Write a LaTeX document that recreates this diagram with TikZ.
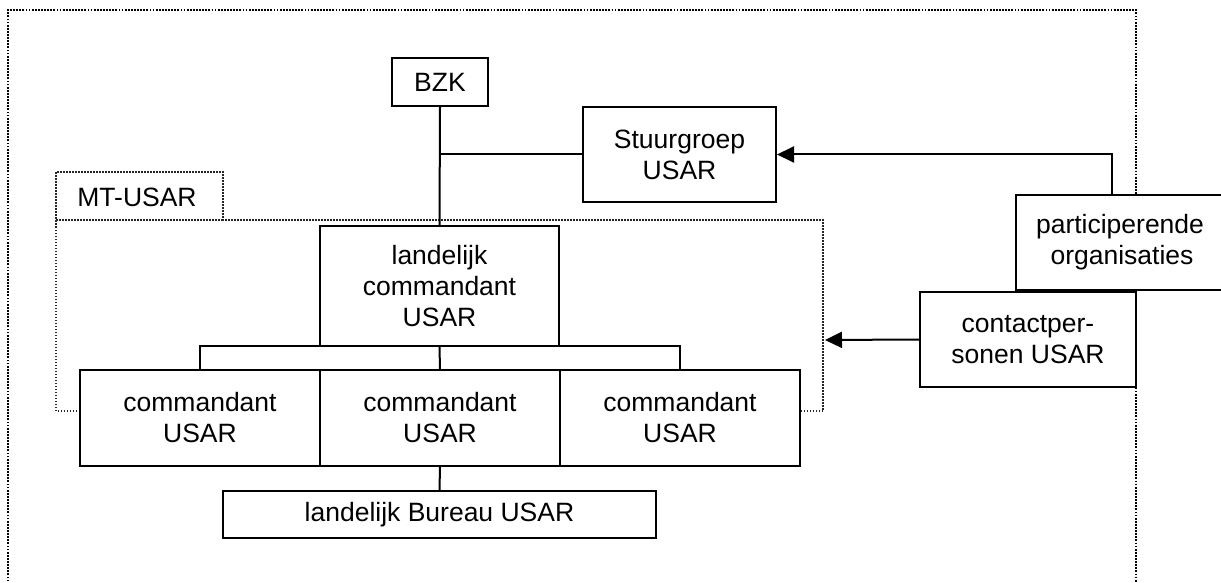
\documentclass[tikz,border=0pt]{standalone}
\usepackage{fontspec}
\setmainfont{Liberation Sans}
\usetikzlibrary{arrows.meta}
\begin{document}
\begin{tikzpicture}[x=1pt,y=-1pt,
  box/.style={draw,fill=white,line width=2pt,rectangle,inner sep=0pt,align=center,
    font=\fontsize{26.5}{31}\selectfont},
  conn/.style={line width=2pt},
  arr/.style={line width=2pt,-{Triangle[length=17pt,width=16pt]}},
  outerdot/.style={line width=2.6pt,dash pattern=on 1.8pt off 1.3pt},
  innerdot/.style={line width=1.4pt,dash pattern=on 1.5pt off 1.5pt,black!85}]
\useasboundingbox (0,0) rectangle (1221,583);
% outer frame
\draw[outerdot] (8,600) -- (8,10) -- (1136,10) -- (1136,600);
% MT-USAR region
\draw[innerdot] (80,411) -- (56,411) -- (56,172) -- (223,172) -- (223,220) -- (823,220) -- (823,411) -- (800,411);
\draw[innerdot] (56,220) -- (223,220);
\node[font=\fontsize{26.5}{31}\selectfont] (mt) at (137,197) {MT-USAR};
\coordinate (mtedge) at (825,340);
% boxes
\node[box,minimum width=96pt,minimum height=48pt] (bzk) at (440,82) {BZK};
\node[box,minimum width=193pt,minimum height=95pt] (stuur) at (679.5,154.5) {Stuurgroep\\USAR};
\node[box,minimum width=239pt,minimum height=120pt] (lc) at (439.5,286) {landelijk\\commandant\\USAR};
\node[box,minimum width=240pt,minimum height=96pt] (c1) at (200,418) {commandant\\USAR};
\node[box,minimum width=240pt,minimum height=96pt] (c2) at (440,418) {commandant\\USAR};
\node[box,minimum width=240pt,minimum height=96pt] (c3) at (680,418) {commandant\\USAR};
\node[box,minimum width=433pt,minimum height=47pt] (lb) at (439.5,514.5) {landelijk Bureau USAR};
\node[box,minimum width=212pt,minimum height=95pt,text width=200pt,align=center] (part) at (1122,242.5) {\hspace*{-4pt}participerende\\organisaties};
\node[box,minimum width=216pt,minimum height=95pt] (cp) at (1028,339.5) {contactper-\\sonen USAR};
% connectors
\coordinate (ptop) at (1112,195);
\coordinate (pbend) at (1112,154.5);
\coordinate (hl) at (200,346);
\coordinate (hr) at (680,346);
\draw[conn] (bzk.south) -- (lc.north);
\draw[conn] (bzk.south |- stuur.west) -- (stuur.west);
\draw[conn] (c1.north) -- (hl) -- (hr) -- (c3.north);
\draw[conn] (lc.south) -- (c2.north);
\draw[conn] (c2.south) -- (lb.north);
\draw[arr] (ptop) -- (pbend) -- (stuur.east);
\draw[arr] (cp.west) -- (mtedge);
\end{tikzpicture}
\end{document}
